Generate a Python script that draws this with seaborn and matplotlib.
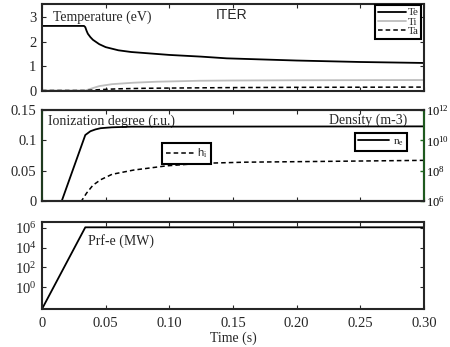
import numpy as np
import pandas as pd
import matplotlib
matplotlib.use("Agg")
import matplotlib.pyplot as plt
import seaborn as sns
from matplotlib.ticker import FixedLocator, NullLocator

# ---- data ----
t_te = [0, 0.033, 0.034, 0.035, 0.036, 0.038, 0.040, 0.045, 0.050, 0.060, 0.070, 0.085, 0.100, 0.125, 0.145, 0.200, 0.250, 0.300]
te   = [2.65, 2.65, 2.60, 2.45, 2.33, 2.19, 2.08, 1.90, 1.78, 1.65, 1.58, 1.52, 1.46, 1.39, 1.32, 1.23, 1.17, 1.13]

t_ti = [0, 0.034, 0.040, 0.045, 0.055, 0.072, 0.090, 0.124, 0.150, 0.200, 0.300]
ti   = [0.0, 0.0, 0.10, 0.18, 0.26, 0.32, 0.36, 0.40, 0.41, 0.42, 0.43]

t_ta = [0, 0.034, 0.040, 0.047, 0.060, 0.080, 0.100, 0.150, 0.200, 0.300]
ta   = [0.0, 0.0, 0.02, 0.04, 0.07, 0.09, 0.10, 0.12, 0.13, 0.14]

t_hi = [0, 0.031, 0.035, 0.040, 0.046, 0.055, 0.072, 0.098, 0.124, 0.160, 0.209, 0.300]
hi   = [0.0, 0.0, 0.013, 0.026, 0.035, 0.044, 0.051, 0.058, 0.062, 0.064, 0.065, 0.067]

t_ne = [0, 0.0155, 0.034, 0.038, 0.042, 0.046, 0.055, 0.070, 0.300]
ne   = [1e6, 1e6, 10**10.35, 10**10.6, 10**10.72, 10**10.8, 10**10.86, 10**10.9, 10**10.92]

t_prf = [0, 0.034, 0.300]
prf   = [6e-3, 1.15e6, 1.15e6]

x_ticks = [0, 0.05, 0.10, 0.15, 0.20, 0.25, 0.30]
x_labels = ["0", "0.05", "0.10", "0.15", "0.20", "0.25", "0.30"]

# ---- style ----
sns.set_style("ticks")
plt.rcParams["font.family"] = ["Liberation Serif", "DejaVu Serif"]
plt.rcParams["mathtext.fontset"] = "custom"
plt.rcParams["mathtext.rm"] = "Liberation Serif"
plt.rcParams["mathtext.it"] = "Liberation Serif:italic"
plt.rcParams["font.size"] = 10
plt.rcParams["axes.linewidth"] = 1.5

W, H = 450, 347
fig = plt.figure(figsize=(W / 100, H / 100), dpi=100)

def rect(x0, x1, y0, y1):
    return [x0 / W, 1 - y1 / H, (x1 - x0) / W, (y1 - y0) / H]

ax1 = fig.add_axes(rect(42, 424, 4, 90.5))
ax2 = fig.add_axes(rect(42, 424, 110, 201))
ax3 = fig.add_axes(rect(42, 424, 222, 309))

LS = 10.5

def style_x(ax, labels=False):
    ax.set_xlim(0, 0.30)
    ax.xaxis.set_major_locator(FixedLocator(x_ticks))
    if labels:
        ax.set_xticklabels(x_labels)
    else:
        ax.set_xticklabels([])
    ax.tick_params(axis="both", direction="in", length=3, width=0.8,
                   top=True, right=True, labelsize=LS, pad=4)
    ax.set_xlabel("")
    ax.set_ylabel("")

# ---- panel 1: temperatures ----
df_te = pd.DataFrame({"t": t_te, "v": te})
df_ti = pd.DataFrame({"t": t_ti, "v": ti})
df_ta = pd.DataFrame({"t": t_ta, "v": ta})
sns.lineplot(data=df_te, x="t", y="v", ax=ax1, color="black", lw=1.3, label="Te")
sns.lineplot(data=df_ti, x="t", y="v", ax=ax1, color="#bdbdbd", lw=1.3, label="Ti")
sns.lineplot(data=df_ta, x="t", y="v", ax=ax1, color="black", lw=1.1, ls=(0, (3, 2)), label="Ta")
ax1.set_ylim(0, 3.55)
ax1.set_yticks([0, 1, 2, 3])
ax1.set_yticklabels(["0", "1", "2", "3"])
style_x(ax1)
leg = ax1.legend(loc="upper right", bbox_to_anchor=(0.993, 0.99), borderaxespad=0,
                 fontsize=8, handlelength=2.5, handletextpad=0.15, labelspacing=-0.05,
                 borderpad=0.25, fancybox=False, framealpha=1, edgecolor="black")
leg.get_frame().set_linewidth(1.5)
ax1.text(0.029, 0.85, "Temperature (eV)", transform=ax1.transAxes, fontsize=10, va="center")
ax1.text(0.497, 0.87, "ITER", transform=ax1.transAxes, fontsize=10, va="center", ha="center",
         family=["Liberation Sans", "DejaVu Sans"])

# ---- panel 2: ionization degree & density ----
df_hi = pd.DataFrame({"t": t_hi, "v": hi})
df_ne = pd.DataFrame({"t": t_ne, "v": ne})
sns.lineplot(data=df_hi, x="t", y="v", ax=ax2, color="black", lw=1.1, ls=(0, (3, 2)), label="h$_\\mathrm{i}$")
ax2.set_ylim(0, 0.15)
ax2.set_yticks([0, 0.05, 0.1, 0.15])
ax2.set_yticklabels(["0", "0.05", "0.1", "0.15"])
style_x(ax2)
ax2.tick_params(axis="y", right=False)
leg2 = ax2.legend(loc="upper left", bbox_to_anchor=(0.314, 0.637), borderaxespad=0,
                  handlelength=2.6, handletextpad=0.2, borderpad=0.35,
                  fancybox=False, framealpha=1, edgecolor="black",
                  prop={"family": ["Liberation Sans", "DejaVu Sans"], "size": 8})
leg2.get_frame().set_linewidth(1.5)

ax2r = ax2.twinx()
ax2r.set_position(ax2.get_position())
sns.lineplot(data=df_ne, x="t", y="v", ax=ax2r, color="black", lw=1.3, label="n$_\\mathrm{e}$")
ax2r.set_yscale("log")
ax2r.set_ylim(1e6, 1e12)
ax2r.yaxis.set_major_locator(FixedLocator([1e6, 1e8, 1e10, 1e12]))
ax2r.yaxis.set_minor_locator(NullLocator())
ax2r.set_yticklabels(["$10^{6}$", "$10^{8}$", "$10^{10}$", "$10^{12}$"])
ax2r.set_ylabel("")
ax2r.set_xlim(0, 0.30)
ax2r.tick_params(axis="y", direction="in", length=3, width=1.0, colors="#1f6b1f",
                 labelcolor="black", labelsize=9, pad=1.5)
ax2r.spines["right"].set_color("#1f5a1f")
ax2r.spines["left"].set_color("#1f3a1f")
leg3 = ax2r.legend(loc="upper left", bbox_to_anchor=(0.819, 0.747), borderaxespad=0,
                   fontsize=8, handlelength=2.8, handletextpad=0.3, borderpad=0.3,
                   fancybox=False, framealpha=1, edgecolor="black")
leg3.get_frame().set_linewidth(1.5)
ax2.text(0.016, 0.88, "Ionization degree (r.u.)", transform=ax2.transAxes, fontsize=10, va="center")
ax2.text(0.955, 0.89, "Density (m-3)", transform=ax2.transAxes, fontsize=10, va="center", ha="right")

# ---- panel 3: RF power ----
df_prf = pd.DataFrame({"t": t_prf, "v": prf})
sns.lineplot(data=df_prf, x="t", y="v", ax=ax3, color="black", lw=1.3, legend=False)
ax3.set_yscale("log")
ax3.set_ylim(6e-3, 10**6.6)
ax3.yaxis.set_major_locator(FixedLocator([1, 1e2, 1e4, 1e6]))
ax3.yaxis.set_minor_locator(NullLocator())
ax3.set_yticklabels(["$10^{0}$", "$10^{2}$", "$10^{4}$", "$10^{6}$"])
style_x(ax3, labels=True)
ax3.tick_params(axis="x", pad=6)
ax3.set_xlabel("Time (s)", fontsize=10, labelpad=1)
ax3.text(0.12, 0.78, "Prf-e (MW)", transform=ax3.transAxes, fontsize=10, va="center")

fig.savefig("out.png", dpi=100)
